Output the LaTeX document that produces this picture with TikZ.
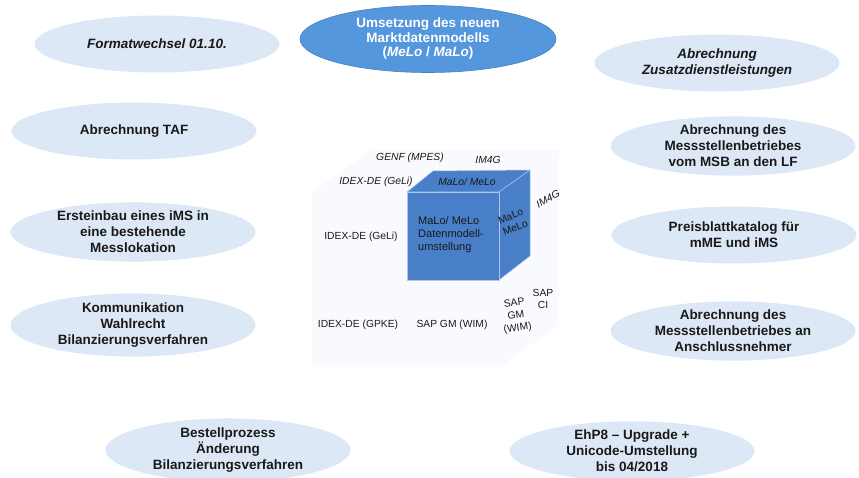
\documentclass[tikz,border=0pt]{standalone}
\usepackage{fontspec}
\setmainfont{Liberation Sans}
\usetikzlibrary{shapes.geometric}
\definecolor{paleblue}{RGB}{221,232,246}
\definecolor{midblue}{RGB}{84,151,220}
\definecolor{cubeblue}{RGB}{72,127,200}
\definecolor{ghost}{RGB}{248,250,253}
\definecolor{ink}{RGB}{25,25,25}
\tikzset{
  topic/.style={ellipse, fill=paleblue, inner sep=0pt, align=center, text=ink,
    font=\bfseries\fontsize{13.5}{16}\selectfont,
    minimum width=245pt, minimum height=57pt},
  keytopic/.style={ellipse, fill=midblue, draw=midblue!85!black, line width=0.6pt,
    inner sep=0pt, align=center, text=white,
    font=\bfseries\fontsize{13.5}{14.5}\selectfont,
    minimum width=256pt, minimum height=67pt},
  sys/.style={font=\fontsize{10.3}{12.5}\selectfont, text=ink, inner sep=0pt, align=center},
  sysit/.style={sys, font=\itshape\fontsize{10.3}{12.5}\selectfont},
  face/.style={fill=cubeblue, draw=white!55!cubeblue, line width=0.5pt, line join=round},
  ghostface/.style={fill=ghost, draw=none}
}
\begin{document}
\begin{tikzpicture}[x=1pt,y=-1pt]
\useasboundingbox (0,0) rectangle (859,478);

% topics around the cube
\node[keytopic] (core) at (428,39) {Umsetzung des neuen\\Marktdatenmodells\\(\textit{MeLo} / \textit{MaLo})};
\node[topic, font=\bfseries\itshape\fontsize{13.5}{16}\selectfont] (fw) at (157,44) {Formatwechsel 01.10.};
\node[topic, font=\bfseries\itshape\fontsize{13.5}{16}\selectfont] (zdl) at (717,63) {Abrechnung\\Zusatzdienstleistungen};
\node[topic] (taf) at (134,131) {Abrechnung TAF};
\node[topic] (msblf) at (733,146) {Abrechnung des\\Messstellenbetriebes\\vom MSB an den LF};
\node[topic] (ims) at (133,232) {Ersteinbau eines iMS in\\eine bestehende\\Messlokation};
\node[topic] (pbk) at (734,235) {Preisblattkatalog für\\mME und iMS};
\node[topic] (kom) at (133,325) {Kommunikation\\Wahlrecht\\Bilanzierungsverfahren};
\node[topic] (ann) at (733,331) {Abrechnung des\\Messstellenbetriebes an\\Anschlussnehmer};
\node[topic] (bst) at (228,450) {Bestellprozess\\Änderung\\Bilanzierungsverfahren};
\node[topic] (ehp) at (632,451) {EhP8 -- Upgrade +\\Unicode-Umstellung\\bis 04/2018};

% large system cube (faint)
\coordinate (A) at (312,192);
\coordinate (B) at (499,192);
\coordinate (C) at (499,367);
\coordinate (D) at (312,367);
\coordinate (E) at (372,150);
\coordinate (F) at (559,150);
\coordinate (G) at (559,325);
\fill[ghostface] (A) -- (B) -- (C) -- (D) -- cycle;
\fill[ghostface] (A) -- (E) -- (F) -- (B) -- cycle;
\fill[ghostface] (B) -- (F) -- (G) -- (C) -- cycle;

% highlighted sub-cube
\coordinate (a) at (407,192);
\coordinate (b) at (499,192);
\coordinate (c) at (499,280);
\coordinate (d) at (407,280);
\coordinate (e) at (433,171);
\coordinate (f) at (530,170);
\coordinate (g) at (530,256);
\filldraw[face] (a) -- (e) -- (f) -- (b) -- cycle;
\filldraw[face] (b) -- (f) -- (g) -- (c) -- cycle;
\filldraw[face] (a) -- (b) -- (c) -- (d) -- cycle;

% labels on the cube
\node[sysit] (genf) at (410,158) {GENF (MPES)};
\node[sysit] (im4gtop) at (488,160) {IM4G};
\node[sysit] (gelitop) at (376,182) {IDEX-DE (GeLi)};
\node[sysit] (malotop) at (467,182) {MaLo/ MeLo};
\node[sysit, rotate=28] (im4gside) at (548,199) {IM4G};
\node[sys, align=left, anchor=west, font=\fontsize{11}{13}\selectfont] (dm) at (418,235) {MaLo/ MeLo\\Datenmodell-\\umstellung};
\node[sys, rotate=22] (maloside) at (513,222) {MaLo\\MeLo};
\node[sys] (geli) at (361,237) {IDEX-DE (GeLi)};
\node[sys] (gpke) at (358,325) {IDEX-DE (GPKE)};
\node[sys] (wim) at (452,325) {SAP GM (WIM)};
\node[sys, rotate=8] (wimside) at (516,316) {SAP\\GM\\(WIM)};
\node[sys] (ci) at (543,299) {SAP\\CI};
\end{tikzpicture}
\end{document}
